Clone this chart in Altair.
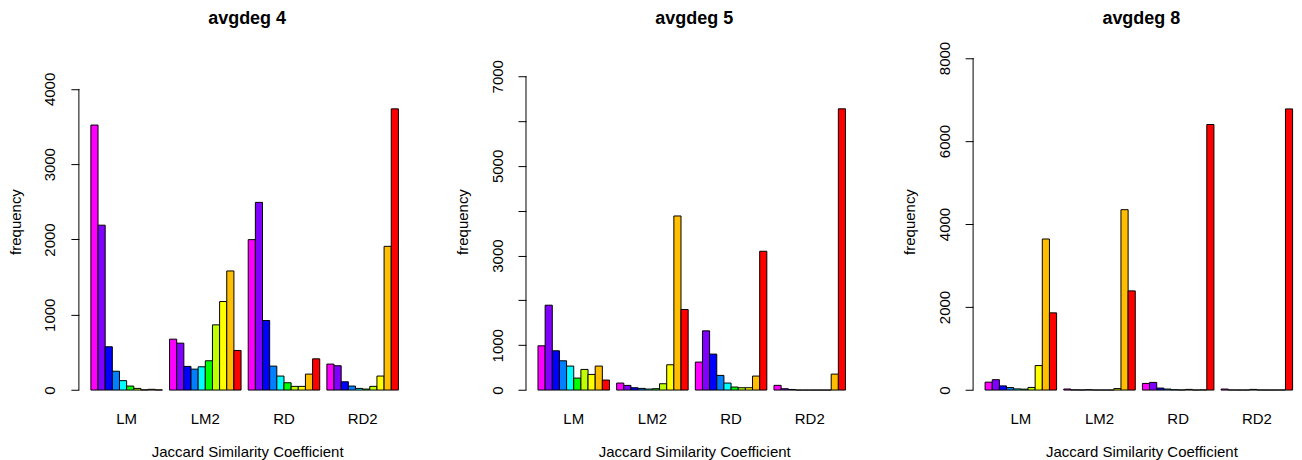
import altair as alt
import pandas as pd

groups = ["LM", "LM2", "RD", "RD2"]
bins = ["[0,0.1)", "[0.1,0.2)", "[0.2,0.3)", "[0.3,0.4)", "[0.4,0.5)",
        "[0.5,0.6)", "[0.6,0.7)", "[0.7,0.8)", "[0.8,0.9)", "[0.9,1]"]
colors = ["#FF00FF", "#8000FF", "#0000FF", "#0080FF", "#00FFFF",
          "#00FF00", "#BFFF00", "#FFFF00", "#FFBF00", "#FF0000"]

# avgdeg 4
deg4_LM = [3520, 2190, 575, 250, 125, 53, 22, 3, 10, 2]
deg4_LM2 = [676, 623, 314, 278, 309, 389, 866, 1176, 1582, 526]
deg4_RD = [1998, 2493, 924, 318, 186, 97, 49, 49, 212, 415]
deg4_RD2 = [345, 323, 110, 53, 22, 13, 49, 186, 1909, 3735]

# avgdeg 5
deg5_LM = [987, 1893, 876, 653, 535, 267, 460, 349, 535, 223]
deg5_LM2 = [156, 104, 52, 37, 22, 30, 141, 564, 3883, 1797]
deg5_RD = [624, 1321, 802, 327, 156, 67, 52, 52, 312, 3096]
deg5_RD2 = [105, 30, 13, 0, 0, 0, 0, 0, 356, 6273]

# avgdeg 8
deg8_LM = [190, 250, 100, 60, 28, 22, 63, 590, 3639, 1860]
deg8_LM2 = [25, 5, 3, 8, 2, 2, 2, 35, 4345, 2389]
deg8_RD = [160, 184, 48, 24, 8, 3, 16, 2, 5, 6397]
deg8_RD2 = [24, 3, 2, 2, 16, 2, 2, 2, 2, 6773]

titles = ["avgdeg 4", "avgdeg 5", "avgdeg 8"]
tick_values = [[0, 1000, 2000, 3000, 4000],
               [0, 1000, 2000, 3000, 4000, 5000, 6000, 7000],
               [0, 2000, 4000, 6000, 8000]]
shown_labels = [[0, 1000, 2000, 3000, 4000],
                [0, 1000, 3000, 5000, 7000],
                [0, 2000, 4000, 6000, 8000]]
y_domain_max = [4659, 7824, 8450]

PLOT_W = 320
PLOT_H = 351.3
FONT = "Liberation Sans"


def make_df(series):
    rows = []
    for g, vals in zip(groups, series):
        for b, v in zip(bins, vals):
            rows.append({"group": g, "bin": b, "value": v})
    return pd.DataFrame(rows)


def panel(title, series, ticks, shown, dmax):
    df = make_df(series)
    label_expr = ("indexof([" + ",".join(str(s) for s in shown) +
                  "], datum.value) >= 0 ? datum.label : ''")
    bars = alt.Chart(df).mark_bar(stroke="black", strokeWidth=1).encode(
        x=alt.X("group:N", sort=groups,
                scale=alt.Scale(paddingInner=1 / 11, paddingOuter=0.0762, align=1),
                axis=alt.Axis(title="Jaccard Similarity Coefficient",
                              domain=False, ticks=False, tickSize=0,
                              labelAngle=0, labelBaseline="alphabetic",
                              labelPadding=33, labelFontSize=15,
                              titleFontSize=15, titleFontWeight="normal",
                              titleX=168.5, titleY=66.5,
                              titleBaseline="alphabetic", titleAlign="center")),
        xOffset=alt.XOffset("bin:N", sort=bins,
                            scale=alt.Scale(paddingInner=0, paddingOuter=0)),
        y=alt.Y("value:Q",
                scale=alt.Scale(domain=[0, dmax], nice=False, zero=True),
                axis=alt.Axis(values=ticks, format="d", title="frequency",
                              domain=False, grid=False, tickSize=8,
                              tickWidth=1, tickColor="black",
                              labelAngle=270, labelAlign="center",
                              labelBaseline="alphabetic", labelPadding=16,
                              labelFontSize=15, labelOverlap=False,
                              labelExpr=label_expr,
                              titleAngle=270, titleAlign="center",
                              titleBaseline="alphabetic",
                              titleX=-58.5, titleY=182.5,
                              titleFontSize=15, titleFontWeight="normal")),
        color=alt.Color("bin:N", sort=bins,
                        scale=alt.Scale(domain=bins, range=colors),
                        legend=None),
    )
    axis_line = alt.Chart(pd.DataFrame({"a": [0]})).mark_rule(
        color="black", strokeWidth=1
    ).encode(
        x=alt.value(0),
        y=alt.datum(0),
        y2=alt.datum(max(ticks)),
    )
    return alt.layer(bars, axis_line).properties(
        width=PLOT_W, height=PLOT_H,
        title=alt.TitleParams(title, fontSize=18, fontWeight="bold",
                              anchor="middle", baseline="alphabetic",
                              frame="group", offset=-3, dx=8.5,
                              color="black", font=FONT),
    )


panels = [
    panel(titles[0], [deg4_LM, deg4_LM2, deg4_RD, deg4_RD2],
          tick_values[0], shown_labels[0], y_domain_max[0]),
    panel(titles[1], [deg5_LM, deg5_LM2, deg5_RD, deg5_RD2],
          tick_values[1], shown_labels[1], y_domain_max[1]),
    panel(titles[2], [deg8_LM, deg8_LM2, deg8_RD, deg8_RD2],
          tick_values[2], shown_labels[2], y_domain_max[2]),
]

chart = alt.hconcat(*panels, spacing=127.8, bounds="flush").properties(
    padding={"left": 0, "top": 2, "right": 0, "bottom": 0},
    background="white",
).configure(
    font=FONT
).configure_view(
    stroke=None
).configure_axis(
    labelColor="black", titleColor="black", labelFont=FONT, titleFont=FONT
)

chart.save("out.html", embed_options={"renderer": "svg", "actions": False})
